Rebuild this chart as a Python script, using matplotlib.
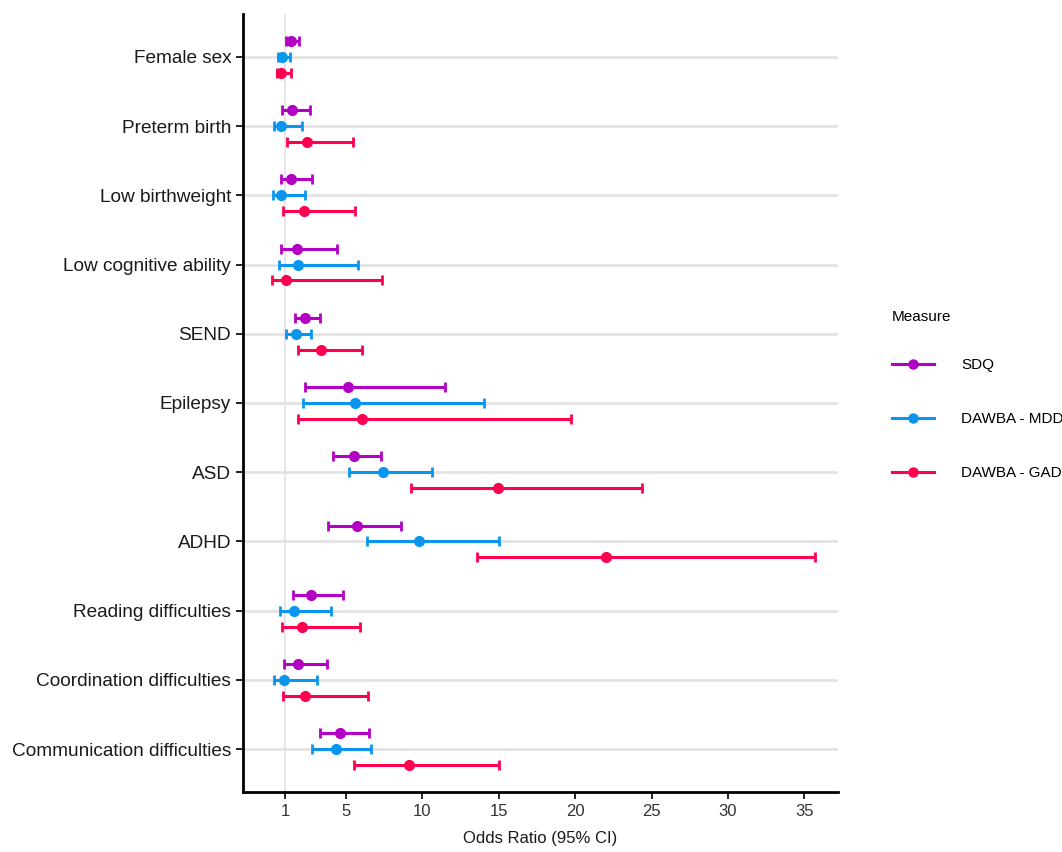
import numpy as np
import matplotlib.pyplot as plt
from matplotlib.lines import Line2D

plt.rcParams['font.family'] = ['Liberation Sans', 'DejaVu Sans']

categories = ["Female sex", "Preterm birth", "Low birthweight", "Low cognitive ability",
              "SEND", "Epilepsy", "ASD", "ADHD", "Reading difficulties",
              "Coordination difficulties", "Communication difficulties"]

measures = ["SDQ", "DAWBA - MDD", "DAWBA - GAD"]
colors = ["#B400C4", "#0A96EE", "#FF0050"]

# odds ratios and 95% CI, one list per measure, in category order
sdq_or = [1.37, 1.44, 1.42, 1.77, 2.32, 5.13, 5.50, 5.72, 2.71, 1.88, 4.60]
sdq_lo = [1.05, 0.78, 0.72, 0.72, 1.64, 2.32, 4.12, 3.83, 1.53, 0.93, 3.28]
sdq_hi = [1.92, 2.62, 2.74, 4.38, 3.30, 11.5, 7.28, 8.59, 4.82, 3.74, 6.49]

mdd_or = [0.83, 0.72, 0.72, 1.82, 1.70, 5.59, 7.43, 9.75, 1.57, 0.91, 4.34]
mdd_lo = [0.57, 0.28, 0.24, 0.61, 1.05, 2.16, 5.19, 6.38, 0.65, 0.28, 2.76]
mdd_hi = [1.33, 2.08, 2.32, 5.76, 2.71, 14.05, 10.6, 15.0, 4.00, 3.09, 6.64]

gad_or = [0.76, 2.47, 2.25, 1.05, 3.35, 6.07, 14.97, 22.0, 2.08, 2.30, 9.09]
gad_lo = [0.50, 1.11, 0.87, 0.13, 1.86, 1.86, 9.22, 13.6, 0.78, 0.85, 5.50]
gad_hi = [1.38, 5.47, 5.59, 7.34, 6.05, 19.7, 24.4, 35.7, 5.91, 6.42, 15.04]

series = [(sdq_or, sdq_lo, sdq_hi), (mdd_or, mdd_lo, mdd_hi), (gad_or, gad_lo, gad_hi)]
offsets = [-0.23, 0.0, 0.23]

fig = plt.figure(figsize=(10.62, 8.52), dpi=100)
ax = fig.add_axes([243 / 1062, 1 - 792 / 852, (838 - 243) / 1062, (792 - 14) / 852])

y = np.arange(len(categories))
for yy in y:
    ax.axhline(yy, color="#e3e3e3", lw=2.0, zorder=0)
ax.axvline(1, color="#e3e3e3", lw=1.2, zorder=0)

for (orv, lo, hi), off, col in zip(series, offsets, colors):
    orv = np.array(orv)
    err = [orv - np.array(lo), np.array(hi) - orv]
    ax.errorbar(orv, y + off, xerr=err, fmt="o", color=col, ms=7,
                elinewidth=2.2, capsize=3.7, capthick=2.0, zorder=3)

ax.set_ylim(len(categories) - 1 + 0.62, -0.62)
ax.set_xlim(-1.75, 37.2)
ax.set_yticks(y)
ax.set_yticklabels(categories, fontsize=13.7, color="#1a1a1a")
ax.set_xticks([1, 5, 10, 15, 20, 25, 30, 35])
ax.tick_params(axis="x", labelsize=12, labelcolor="#333333", length=5, width=1.2)
ax.tick_params(axis="y", length=5, width=1.2)
ax.set_xlabel("Odds Ratio (95% CI)", fontsize=12, color="#1a1a1a", labelpad=9)

for side in ["top", "right"]:
    ax.spines[side].set_visible(False)
for side in ["left", "bottom"]:
    ax.spines[side].set_linewidth(2)

handles = [Line2D([0], [0], color=c, lw=2.2, marker="o", ms=6.5) for c in colors]
leg = fig.legend(handles, measures, loc="upper left",
                 bbox_to_anchor=(878 / 1062, 1 - 296 / 852), frameon=False,
                 title="Measure", fontsize=11, title_fontsize=11,
                 handlelength=2.75, handletextpad=1.8, labelspacing=2.6,
                 alignment="left")
leg._legend_box.sep = 25

fig.savefig("out.png", dpi=100)
